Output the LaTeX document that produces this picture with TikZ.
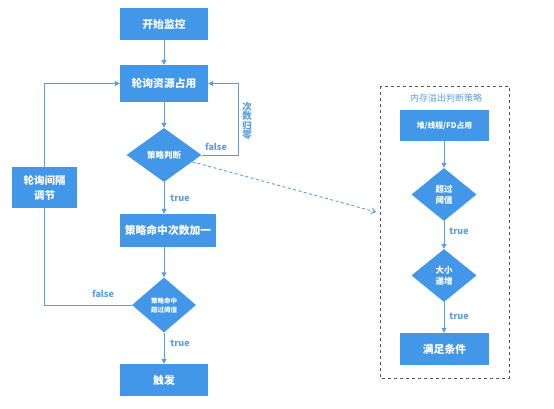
\documentclass[tikz,border=0pt]{standalone}
\usepackage{fontspec}
\setmainfont{Noto Sans CJK SC}
\usetikzlibrary{shapes.geometric,arrows.meta,calc}
\definecolor{boxblue}{HTML}{4297E8}
\definecolor{lineblue}{HTML}{5A9EE0}
\definecolor{frame}{HTML}{555555}

\begin{document}
\begin{tikzpicture}[
        x=1pt, y=-1pt,
        box/.style={draw=none, fill=boxblue, text=white, inner sep=0pt,
            font=\fontsize{10.8}{12}\selectfont\bfseries},
        decision/.style={diamond, fill=boxblue, text=white, inner sep=0pt,
            align=center, font=\fontsize{8.5}{11}\selectfont\bfseries},
        lbl/.style={text=lineblue, inner sep=1pt, font=\fontsize{9}{10}\selectfont\bfseries},
        arr/.style={draw=lineblue, line width=1pt, -{Triangle[length=5pt,width=5pt]}},
        wire/.style={draw=lineblue, line width=1pt}
    ]
        \useasboundingbox (0,0) rectangle (554,409);
        % main loop
        \node[box, minimum width=88pt, minimum height=32pt] (start) at (164,24) {开始监控};
        \node[box, minimum width=88pt, minimum height=37pt] (poll) at (164,83.5) {轮询资源占用};
        \node[decision, minimum width=75pt, minimum height=54pt] (judge) at (164,155) {策略判断};
        \node[box, minimum width=96pt, minimum height=33pt] (hit) at (168,230.5) {策略命中次数加一};
        \node[decision, minimum width=64pt, minimum height=55pt,
            font=\fontsize{6.5}{9}\selectfont\bfseries] (hitcheck) at (164,305) {策略命中\\超过阈值};
        \node[box, minimum width=88pt, minimum height=32pt] (fire) at (164,380) {触发};
        \node[box, minimum width=65pt, minimum height=41pt, align=center,
            font=\fontsize{10.5}{15}\selectfont\bfseries] (adjust) at (44.5,187.5) {轮询间隔\\调节};
        \draw[arr] (start) -- (poll);
        \draw[arr] (poll) -- (judge);
        \draw[arr] (judge.east) -- ++(37,0) |- (poll.east);
        \draw[arr] (judge) -- (judge |- hit.north);
        \draw[arr] (hit.south -| hitcheck) -- (hitcheck);
        \draw[arr] (hitcheck) -- (fire);
        \draw[wire] (hitcheck.west) -| (adjust.south);
        \draw[arr] (adjust.north) |- (poll.west);
        \node[lbl] (lfalse1) at (216,147) {false};
        \node[lbl, align=center, font=\fontsize{9.5}{9.5}\selectfont\bfseries] (reset) at (247,121) {次\\数\\归\\零};
        \node[lbl] (ltrue1) at (180,198) {true};
        \node[lbl] (lfalse2) at (103,294) {false};
        \node[lbl] (ltrue2) at (180,343) {true};
        % memory overflow strategy
        \draw[frame, dashed, line width=0.8pt] (380,86) rectangle (509,378);
        \node[lbl, font=\fontsize{9}{10}\selectfont] (memtitle) at (446,98) {内存溢出判断策略};
        \node[box, minimum width=89pt, minimum height=31pt,
            font=\fontsize{7.8}{9}\selectfont\bfseries] (usage) at (444.5,125.5) {堆/线程/FD占用};
        \node[decision, minimum width=65pt, minimum height=53pt] (over) at (444,194.5) {超过\\阈值};
        \node[decision, minimum width=65pt, minimum height=53pt] (grow) at (444,275.5) {大小\\递增};
        \node[box, minimum width=89pt, minimum height=32pt] (ok) at (444.5,349) {满足条件};
        \draw[arr] (usage.south -| over) -- (over);
        \draw[arr] (over) -- (grow);
        \draw[arr] (grow) -- (grow |- ok.north);
        \node[lbl] (ltrue3) at (459,231) {true};
        \node[lbl] (ltrue4) at (459,316) {true};
        % link to strategy
        \coordinate (memin) at (376,212);
        \draw[draw=lineblue, line width=0.9pt, dash pattern=on 3pt off 2.5pt,
            -{Straight Barb[length=4pt,width=6pt]}]
            ($(judge.east)!0.25!(judge.south)$) -- (memin);
    \end{tikzpicture}
\end{document}
